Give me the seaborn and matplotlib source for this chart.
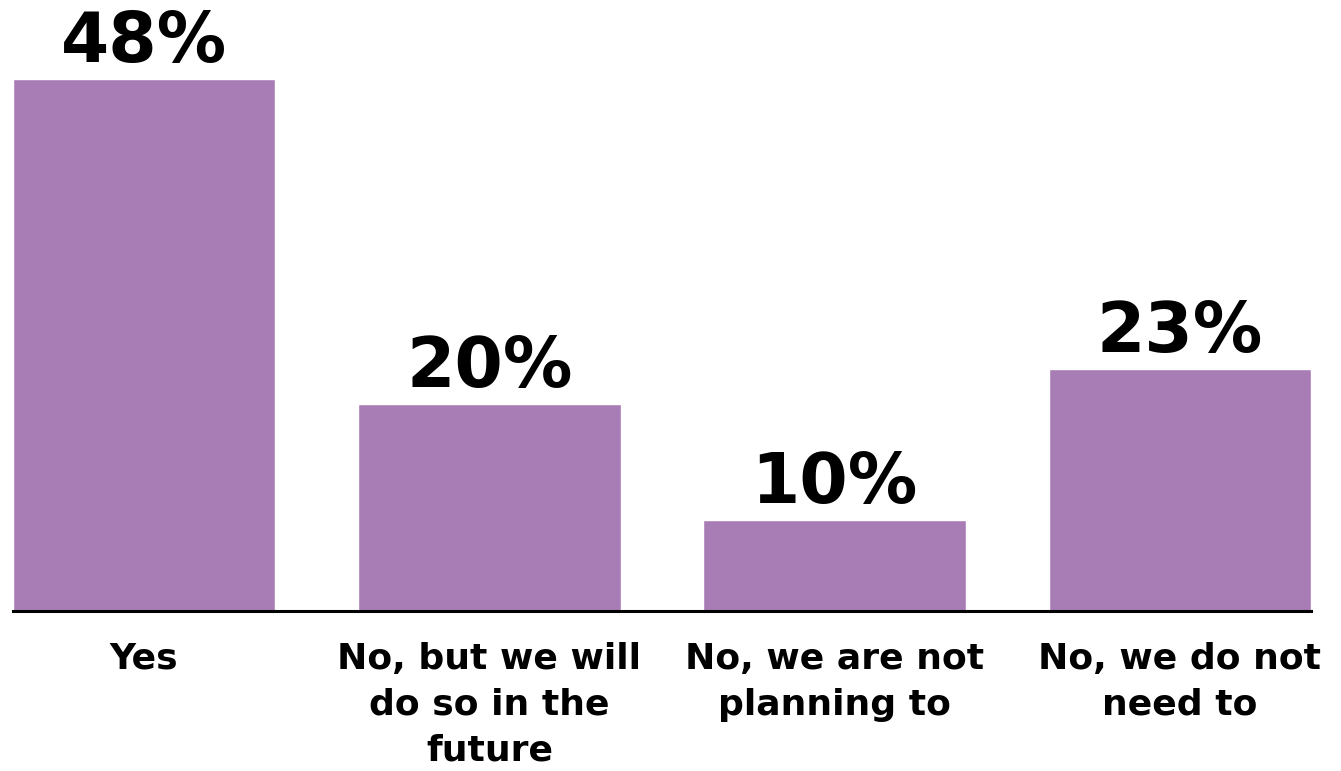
import matplotlib.pyplot as plt
import pandas as pd
import seaborn as sns

answers = ["Yes", "No, but we will\ndo so in the\nfuture", "No, we are not\nplanning to", "No, we do not\nneed to"]
shares = [48, 20, 10, 23]

bar_color = "#a87db5"

df = pd.DataFrame({"answer": answers, "share": shares})

sns.set_style("white")
plt.rcParams["font.family"] = ["DejaVu Sans"]

fig = plt.figure(figsize=(13.41, 7.71), dpi=100)
ax = fig.add_axes([13 / 1341, 1 - 611 / 771, 1298 / 1341, 601 / 771])

sns.barplot(data=df, x="answer", y="share", color=bar_color, saturation=1, width=0.76, ax=ax)

for c in ax.containers:
    ax.bar_label(c, fmt="{:.0f}%", padding=2, fontsize=50, fontweight="bold", color="black")

ax.set_xlim(-0.38, 3.38)
ax.set_ylim(2.15, 53.95)
ax.set_xlabel("")
ax.set_ylabel("")
ax.set_yticks([])

for side in ["top", "left", "right"]:
    ax.spines[side].set_visible(False)
ax.spines["bottom"].set_linewidth(2.2)
ax.spines["bottom"].set_color("black")

ax.tick_params(axis="x", length=0, pad=22, labelcolor="black")
for lab in ax.get_xticklabels():
    lab.set_fontsize(26)
    lab.set_fontweight("bold")
    lab.set_linespacing(1.45)

fig.savefig("out.png", dpi=100)
